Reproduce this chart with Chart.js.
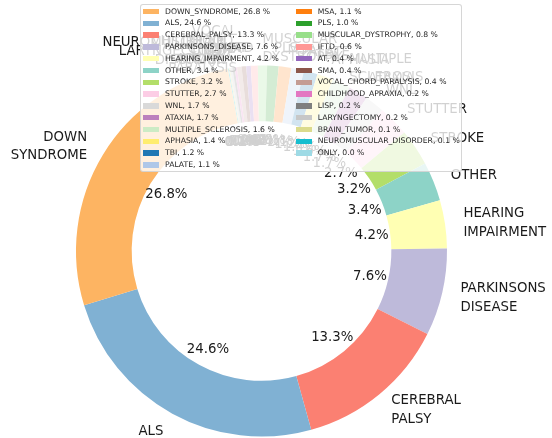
<!DOCTYPE html>
<html>
<head>
<meta charset="utf-8">
<script src="https://cdn.jsdelivr.net/npm/chart.js@4.4.0/dist/chart.umd.min.js"></script>
<style>
  html, body { margin: 0; padding: 0; background: #fff; }
  #wrap { position: relative; width: 552px; height: 438px; overflow: hidden; }
  #legenda {
    position: absolute; left: 140px; top: 4px; width: 322px; height: 168px;
    box-sizing: border-box;
    background: rgba(255, 255, 255, 0.8);
    border: 1px solid rgba(204, 204, 204, 0.8);
    border-radius: 3px;
    font-family: "DejaVu Sans", sans-serif; font-size: 7.7px; color: #262626;
  }
  .item { position: absolute; height: 12px; line-height: 12px; white-space: nowrap; }
  .patch { position: absolute; left: 0; top: 3.3px; width: 15.5px; height: 5.4px; }
  .txt { position: absolute; left: 21.7px; top: 0; }
</style>
</head>
<body>
<div id="wrap">
  <canvas id="graficoPizza" width="552" height="438"></canvas>
  <div id="legenda"></div>
</div>
<script>
// Categorias na ordem da legenda (a pizza segue esta ordem no sentido anti-horário)
const CATEGORIAS = [
  "DOWN_SYNDROME", "ALS", "CEREBRAL_PALSY", "PARKINSONS_DISEASE",
  "HEARING_IMPAIRMENT", "OTHER", "STROKE", "STUTTER", "WNL", "ATAXIA",
  "MULTIPLE_SCLEROSIS", "APHASIA", "TBI", "PALATE", "MSA", "PLS",
  "MUSCULAR_DYSTROPHY", "IFTD", "AT", "SMA", "VOCAL_CHORD_PARALYSIS",
  "CHILDHOOD_APRAXIA", "LISP", "LARYNGECTOMY", "BRAIN_TUMOR",
  "NEUROMUSCULAR_DISORDER", "ONLY",
];

const PERCENTUAIS = [
  26.8, 24.6, 13.3, 7.6, 4.2, 3.4, 3.2, 2.7, 1.7, 1.7,
  1.6, 1.4, 1.2, 1.1, 1.1, 1.0, 0.8, 0.6, 0.4, 0.4,
  0.4, 0.2, 0.2, 0.2, 0.1, 0.1, 0.0,
];

const CORES = [
  "#fdb462", "#80b1d3", "#fb8072", "#bebada", "#ffffb3", "#8dd3c7",
  "#b3de69", "#fccde5", "#d9d9d9", "#bc80bd", "#ccebc5", "#ffed6f",
  "#1f77b4", "#aec7e8", "#ff7f0e", "#2ca02c", "#98df8a", "#ff9896",
  "#9467bd", "#8c564b", "#c49c94", "#e377c2", "#7f7f7f", "#c7c7c7",
  "#dbdb8d", "#17becf", "#9edae5",
];

// Chart.js desenha no sentido horário: inverte a ordem para ficar anti-horário
const nomesPizza = CATEGORIAS.slice().reverse();
const valoresPizza = PERCENTUAIS.slice().reverse();
const coresPizza = CORES.slice().reverse();

// Rótulos de nome (fora) e de percentual (dentro do furo)
const rotulosPizza = {
  id: "rotulosPizza",
  afterDatasetsDraw(chart) {
    const ctx = chart.ctx;
    const meta = chart.getDatasetMeta(0);
    ctx.save();
    ctx.font = "13.3px 'DejaVu Sans'";
    ctx.fillStyle = "#1a1a1a";
    ctx.textBaseline = "middle";
    meta.data.forEach((arco, i) => {
      const p = arco.getProps(["x", "y", "startAngle", "endAngle", "outerRadius"], true);
      const meio = (p.startAngle + p.endAngle) / 2;
      const cos = Math.cos(meio);
      const sin = Math.sin(meio);

      const linhas = nomesPizza[i].split("_");
      const lx = p.x + cos * p.outerRadius * 1.1;
      const ly = p.y + sin * p.outerRadius * 1.1 + 1.5;
      ctx.textAlign = cos >= 0 ? "left" : "right";
      linhas.forEach((linha, k) => {
        ctx.fillText(linha, lx, ly + (k - (linhas.length - 1) / 2) * 18.5);
      });

      ctx.textAlign = "center";
      ctx.fillText(
        valoresPizza[i].toFixed(1) + "%",
        p.x + cos * p.outerRadius * 0.6,
        p.y + sin * p.outerRadius * 0.6 + 1,
      );
    });
    ctx.restore();
  },
};

new Chart(document.getElementById("graficoPizza").getContext("2d"), {
  type: "doughnut",
  data: {
    labels: nomesPizza,
    datasets: [
      {
        data: valoresPizza,
        backgroundColor: coresPizza,
        borderWidth: 0,
        hoverOffset: 0,
      },
    ],
  },
  options: {
    responsive: false,
    animation: false,
    devicePixelRatio: 1,
    cutout: "70%",
    rotation: -10.5,
    layout: { padding: { left: 76, right: 105, top: 65.5, bottom: 1.5 } },
    plugins: {
      legend: { display: false },
      tooltip: { enabled: false },
    },
  },
  plugins: [rotulosPizza],
});

// Legenda em duas colunas (14 + 13 itens), por cima da pizza
const legenda = document.getElementById("legenda");
CATEGORIAS.forEach((nome, i) => {
  const col = i < 14 ? 0 : 1;
  const lin = i < 14 ? i : i - 14;
  const item = document.createElement("div");
  item.className = "item";
  item.style.left = (col === 0 ? 2.3 : 155) + "px";
  item.style.top = (6.5 + lin * 11.8 - 6) + "px";
  const patch = document.createElement("span");
  patch.className = "patch";
  patch.style.background = CORES[i];
  const txt = document.createElement("span");
  txt.className = "txt";
  txt.textContent = nome + ", " + PERCENTUAIS[i].toFixed(1) + " %";
  item.appendChild(patch);
  item.appendChild(txt);
  legenda.appendChild(item);
});
</script>
</body>
</html>
